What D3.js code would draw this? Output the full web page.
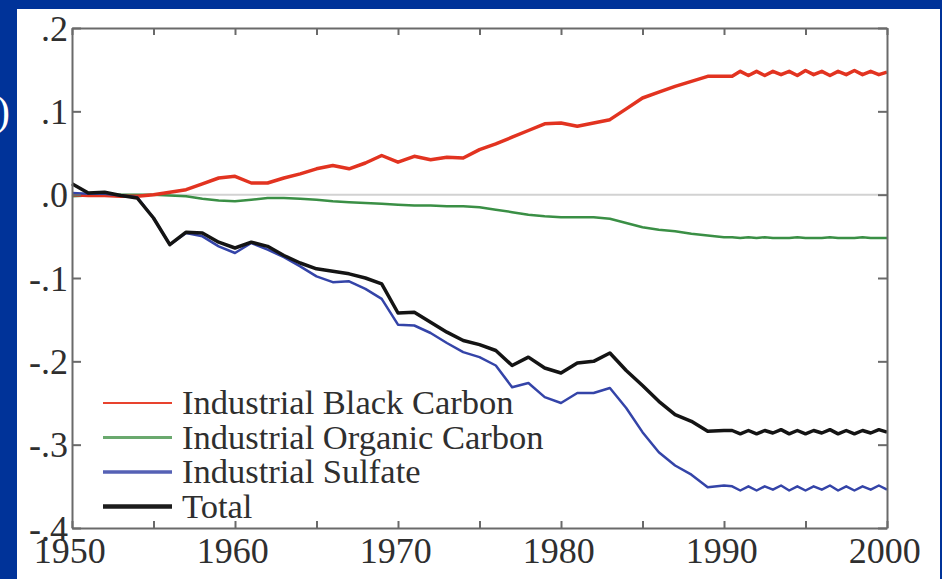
<!DOCTYPE html>
<html>
<head>
<meta charset="utf-8">
<script src="https://cdn.jsdelivr.net/npm/d3@7"></script>
<style>
  html, body { margin: 0; padding: 0; background: #003399; }
  svg { display: block; }
</style>
</head>
<body>
<svg id="chart" width="942" height="579"></svg>
<script>
// Years: annual to 1990, half-yearly afterwards (the 1990s show a yearly cycle)
const years = [
  1950, 1951, 1952, 1953, 1954, 1955, 1956, 1957, 1958, 1959,
  1960, 1961, 1962, 1963, 1964, 1965, 1966, 1967, 1968, 1969,
  1970, 1971, 1972, 1973, 1974, 1975, 1976, 1977, 1978, 1979,
  1980, 1981, 1982, 1983, 1984, 1985, 1986, 1987, 1988, 1989,
  1990, 1990.5, 1991, 1991.5, 1992, 1992.5, 1993, 1993.5, 1994, 1994.5,
  1995, 1995.5, 1996, 1996.5, 1997, 1997.5, 1998, 1998.5, 1999, 1999.5, 2000
];

const blackCarbon = [
  0.000, -0.001, -0.001, -0.002, -0.002, 0.000, 0.003, 0.006, 0.013, 0.020,
  0.022, 0.014, 0.014, 0.020, 0.025, 0.031, 0.035, 0.031, 0.038, 0.047,
  0.039, 0.046, 0.042, 0.045, 0.044, 0.054, 0.061, 0.069, 0.077, 0.085,
  0.086, 0.082, 0.086, 0.090, 0.103, 0.116, 0.123, 0.130, 0.136, 0.142,
  0.142, 0.142, 0.148, 0.143, 0.148, 0.143, 0.148, 0.144, 0.148, 0.143,
  0.149, 0.144, 0.148, 0.143, 0.148, 0.144, 0.149, 0.144, 0.148, 0.144, 0.147
];

const organicCarbon = [
  -0.002, -0.001, 0.000, 0.000, 0.000, 0.000, -0.001, -0.002, -0.005, -0.007,
  -0.008, -0.006, -0.004, -0.004, -0.005, -0.006, -0.008, -0.009, -0.010, -0.011,
  -0.012, -0.013, -0.013, -0.014, -0.014, -0.015, -0.018, -0.021, -0.024, -0.026,
  -0.027, -0.027, -0.027, -0.029, -0.034, -0.039, -0.042, -0.044, -0.047, -0.049,
  -0.051, -0.051, -0.052, -0.051, -0.052, -0.051, -0.052, -0.052, -0.052, -0.051,
  -0.052, -0.052, -0.052, -0.051, -0.052, -0.052, -0.052, -0.051, -0.052, -0.052, -0.052
];

const sulfate = [
  0.002, 0.001, 0.001, -0.001, -0.003, -0.028, -0.060, -0.046, -0.050, -0.062,
  -0.070, -0.058, -0.066, -0.075, -0.086, -0.098, -0.105, -0.104, -0.113, -0.125,
  -0.156, -0.157, -0.166, -0.178, -0.189, -0.195, -0.205, -0.231, -0.226, -0.243,
  -0.250, -0.238, -0.238, -0.232, -0.256, -0.285, -0.309, -0.325, -0.336, -0.351,
  -0.349, -0.350, -0.355, -0.350, -0.355, -0.350, -0.354, -0.349, -0.355, -0.350,
  -0.355, -0.350, -0.354, -0.349, -0.355, -0.350, -0.355, -0.350, -0.354, -0.349, -0.354
];

const total = [
  0.013, 0.002, 0.003, -0.001, -0.004, -0.028, -0.060, -0.045, -0.046, -0.057,
  -0.064, -0.057, -0.062, -0.073, -0.082, -0.089, -0.092, -0.095, -0.100, -0.107,
  -0.142, -0.141, -0.153, -0.165, -0.175, -0.180, -0.187, -0.205, -0.195, -0.208,
  -0.214, -0.202, -0.200, -0.190, -0.211, -0.229, -0.248, -0.264, -0.272, -0.284,
  -0.283, -0.283, -0.287, -0.283, -0.287, -0.283, -0.286, -0.282, -0.287, -0.283,
  -0.287, -0.283, -0.286, -0.282, -0.287, -0.283, -0.287, -0.283, -0.286, -0.282, -0.285
];

const seriesNames = ["Industrial Black Carbon", "Industrial Organic Carbon", "Industrial Sulfate", "Total"];

const xTickValues = [1950, 1955, 1960, 1965, 1970, 1975, 1980, 1985, 1990, 1995, 2000];
const xLabelValues = [1950, 1960, 1970, 1980, 1990, 2000];
const yTickValues = [0.2, 0.1, 0.0, -0.1, -0.2, -0.3, -0.4];
const yTickLabels = [".2", ".1", ".0", "-.1", "-.2", "-.3", "-.4"];

// ---- drawing ----
const svg = d3.select("#chart");
const W = 942, H = 579;
const plot = { left: 72, right: 887, top: 28, bottom: 528 };

const x = d3.scaleLinear().domain([1950, 2000]).range([plot.left, plot.right]);
const y = d3.scaleLinear().domain([-0.4, 0.2]).range([plot.bottom, plot.top]);

// slide background and white figure panel
svg.append("rect").attr("x", 0).attr("y", 0).attr("width", W).attr("height", H).attr("fill", "#003399");
svg.append("rect").attr("x", 17).attr("y", 9).attr("width", 923).attr("height", H - 9).attr("fill", "#ffffff");

// end of the slide's unit label, left of the panel
svg.append("text")
  .attr("x", -4).attr("y", 125)
  .attr("fill", "#ffffff")
  .style("font-family", "'Liberation Serif', 'Times New Roman', serif")
  .style("font-size", "42px")
  .text(")");

const serif = "'Liberation Serif', 'Times New Roman', serif";
const textColor = "#2f2f2f";
const axisColor = "#6a6a6a";

// zero reference line
svg.append("line")
  .attr("x1", plot.left).attr("x2", plot.right)
  .attr("y1", y(0)).attr("y2", y(0))
  .attr("stroke", "#d2d2d2").attr("stroke-width", 2);

// series
const colors = ["#e23320", "#3a8f45", "#3444a8", "#141414"];
const widths = [3.5, 2.5, 2.5, 3.5];
const allSeries = [blackCarbon, organicCarbon, sulfate, total];
const line = d3.line().x(d => x(d[0])).y(d => y(d[1]));
const drawOrder = [1, 0, 2, 3];
drawOrder.forEach(i => {
  svg.append("path")
    .datum(years.map((yr, k) => [yr, allSeries[i][k]]))
    .attr("fill", "none")
    .attr("stroke", colors[i])
    .attr("stroke-width", widths[i])
    .attr("stroke-linejoin", "round")
    .attr("d", line);
});

// axes with inward ticks on all four sides
function styleAxis(g) {
  g.selectAll(".domain").attr("stroke", axisColor).attr("stroke-width", 2);
  g.selectAll(".tick line").attr("stroke", axisColor).attr("stroke-width", 2);
  g.selectAll(".tick text")
    .attr("fill", textColor)
    .style("font-family", serif)
    .style("font-size", "36px");
}

const yLabelOf = v => yTickLabels[yTickValues.indexOf(v)];

svg.append("g")
  .attr("transform", `translate(${plot.left},0)`)
  .call(d3.axisLeft(y).tickValues(yTickValues).tickFormat(yLabelOf).tickSizeInner(-9).tickSizeOuter(0).tickPadding(4))
  .call(styleAxis)
  .call(g => g.selectAll(".tick text").attr("dy", "0.34em"));

svg.append("g")
  .attr("transform", `translate(${plot.right},0)`)
  .call(d3.axisRight(y).tickValues(yTickValues).tickFormat("").tickSizeInner(-9).tickSizeOuter(0))
  .call(styleAxis);

svg.append("g")
  .attr("transform", `translate(0,${plot.top})`)
  .call(d3.axisTop(x).tickValues(xTickValues).tickFormat("").tickSizeInner(-7).tickSizeOuter(0))
  .call(styleAxis);

svg.append("g")
  .attr("transform", `translate(0,${plot.bottom})`)
  .call(d3.axisBottom(x).tickValues(xTickValues)
    .tickFormat(d => xLabelValues.includes(d) ? String(d) : "")
    .tickSizeInner(-7).tickSizeOuter(0).tickPadding(9))
  .call(styleAxis)
  .call(g => g.selectAll(".tick text").attr("dx", "-0.08em"));

// legend
const legend = svg.append("g").attr("transform", "translate(103,403)");
const legendWidths = [2, 3, 3.5, 4.5];
const legendColors = ["#e8432e", "#6aa96e", "#5561b5", "#1c1c1c"];
seriesNames.forEach((name, i) => {
  const row = legend.append("g").attr("transform", `translate(0,${i * 34.5})`);
  row.append("line")
    .attr("x1", 0).attr("x2", 69).attr("y1", 0).attr("y2", 0)
    .attr("stroke", legendColors[i]).attr("stroke-width", legendWidths[i]);
  row.append("text")
    .attr("x", 79).attr("y", 11)
    .attr("fill", textColor)
    .style("font-family", serif)
    .style("font-size", "34.5px")
    .text(name);
});
</script>
</body>
</html>
